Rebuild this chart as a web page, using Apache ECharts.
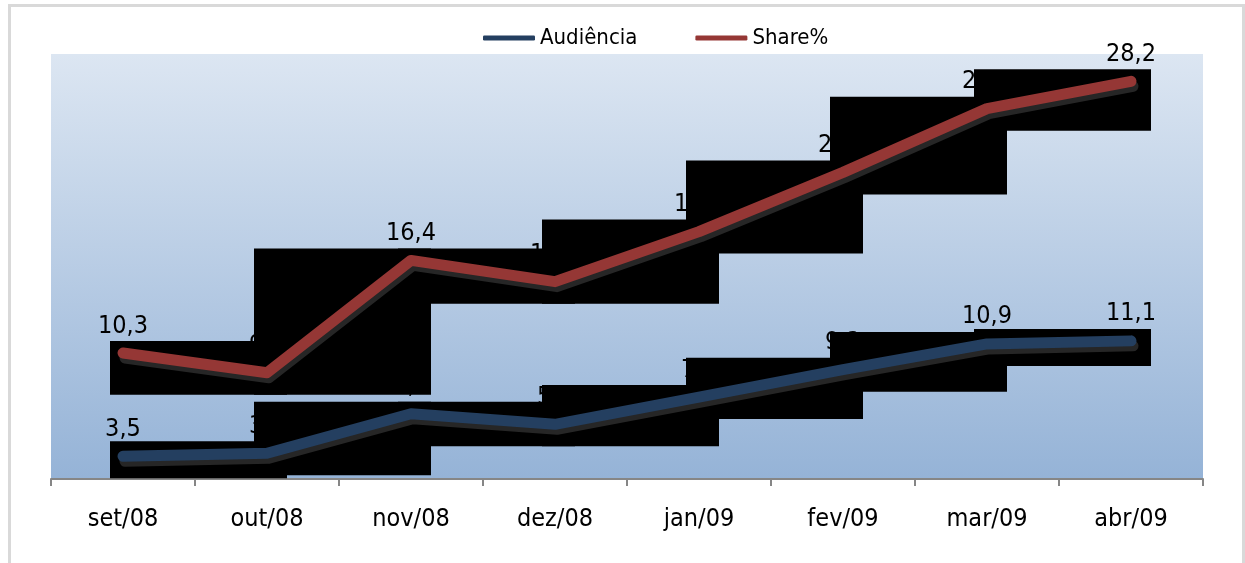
<!DOCTYPE html>
<html>
<head>
<meta charset="utf-8">
<script src="https://cdn.jsdelivr.net/npm/echarts@6/dist/echarts.min.js"></script>
<style>
  html, body { margin: 0; padding: 0; background: #fff; }
  #chart { width: 1245px; height: 563px; }
</style>
</head>
<body>
<div id="chart"></div>
<script>
const months = ["set/08", "out/08", "nov/08", "dez/08", "jan/09", "fev/09", "mar/09", "abr/09"];
const audiencia = [3.5, 3.7, 6.3, 5.6, 7.4, 9.2, 10.9, 11.1];
const share = [10.3, 9.0, 16.4, 15.0, 18.3, 22.2, 26.4, 28.2];

const FONT = "DejaVu Sans Condensed";
const BLUE = "#243f60";
const RED = "#953735";

// segment pairs for the black shadow blocks the original rendered behind each line
function segments(values) {
  const out = [];
  for (let i = 0; i < values.length - 1; i++) out.push([i, values[i], values[i + 1]]);
  return out;
}

function renderBlock(params, api) {
  const a = api.coord([api.value(0), api.value(1)]);
  const b = api.coord([api.value(0) + 1, api.value(2)]);
  const rect = echarts.graphic.clipRectByRect(
    {
      x: a[0] - 13,
      y: Math.min(a[1], b[1]) - 12,
      width: b[0] - a[0] + 33,
      height: Math.abs(a[1] - b[1]) + 34
    },
    {
      x: params.coordSys.x,
      y: params.coordSys.y,
      width: params.coordSys.width,
      height: params.coordSys.height
    }
  );
  return rect && { type: "rect", shape: rect, style: { fill: "#000" } };
}

const fmt = p => p.value.toFixed(1).replace(".", ",");

function labelSeries(name, data) {
  return {
    name: name,
    type: "line",
    data: data,
    z: 1,
    symbol: "circle",
    symbolSize: 1,
    itemStyle: { color: "transparent" },
    lineStyle: { opacity: 0 },
    label: {
      show: true,
      position: "top",
      distance: 14,
      formatter: fmt,
      fontFamily: FONT,
      fontSize: 25,
      color: "#000"
    },
    silent: true
  };
}

function lineSeries(name, data, color) {
  return {
    name: name,
    type: "line",
    data: data,
    z: 5,
    showSymbol: false,
    color: color,
    lineStyle: {
      width: 11,
      color: color,
      cap: "round",
      join: "round",
      shadowColor: "rgba(70,70,70,0.55)",
      shadowOffsetX: 2,
      shadowOffsetY: 5
    }
  };
}

const chart = echarts.init(document.getElementById("chart"));

chart.setOption({
  animation: false,
  backgroundColor: "#fff",
  graphic: [{
    type: "rect",
    left: 7, top: 3,
    shape: { width: 1234, height: 700 },
    style: { fill: "none", stroke: "#d9d9d9", lineWidth: 3 },
    z: -1
  }],
  legend: {
    data: ["Audiência", "Share%"],
    left: 478,
    top: 22,
    icon: "roundRect",
    itemWidth: 52,
    itemHeight: 5,
    itemGap: 58,
    textStyle: { fontFamily: FONT, fontSize: 22, color: "#000" },
    selectedMode: false
  },
  grid: {
    left: 51,
    right: 42,
    top: 54,
    bottom: 84,
    show: true,
    borderWidth: 0,
    backgroundColor: {
      type: "linear", x: 0, y: 0, x2: 0, y2: 1,
      colorStops: [
        { offset: 0, color: "#dce6f2" },
        { offset: 1, color: "#95b3d7" }
      ]
    }
  },
  xAxis: {
    type: "category",
    data: months,
    boundaryGap: true,
    axisLine: { lineStyle: { color: "#868686", width: 2 } },
    axisTick: { show: true, length: 7, lineStyle: { color: "#868686", width: 2 } },
    axisLabel: { fontFamily: FONT, fontSize: 25, color: "#000", margin: 28 },
    splitLine: { show: false }
  },
  yAxis: {
    type: "value",
    min: 2,
    max: 30,
    show: false,
    splitLine: { show: false }
  },
  series: [
    labelSeries("lbl_aud", audiencia),
    labelSeries("lbl_share", share),
    {
      name: "blk_aud",
      type: "custom",
      z: 3,
      silent: true,
      renderItem: renderBlock,
      data: segments(audiencia)
    },
    {
      name: "blk_share",
      type: "custom",
      z: 3,
      silent: true,
      renderItem: renderBlock,
      data: segments(share)
    },
    lineSeries("Audiência", audiencia, BLUE),
    lineSeries("Share%", share, RED)
  ]
});
</script>
</body>
</html>
